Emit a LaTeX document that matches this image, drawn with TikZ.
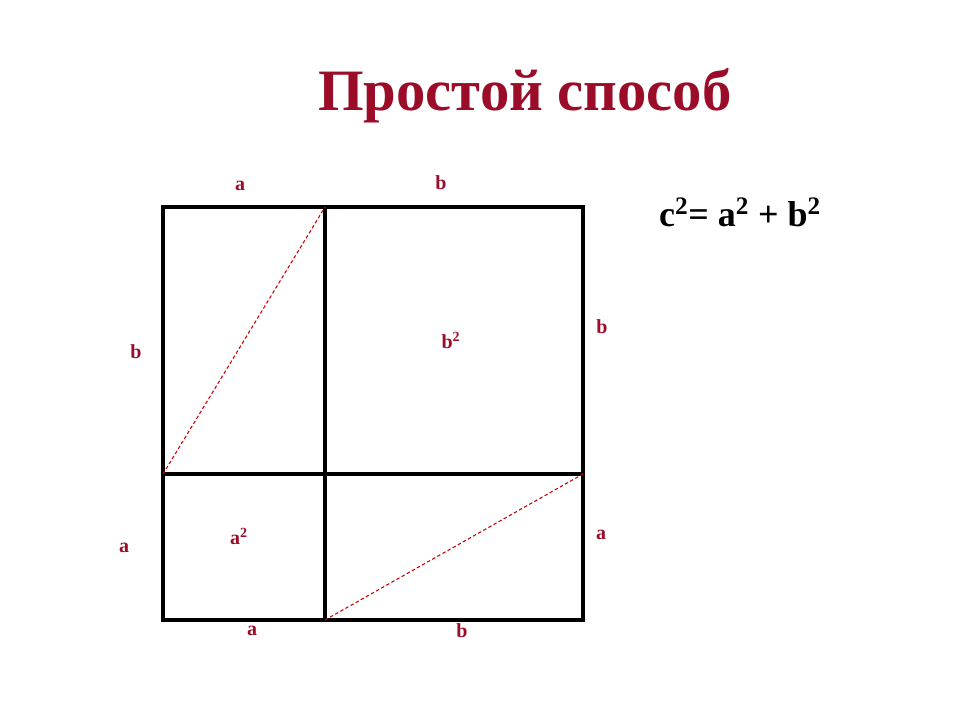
\documentclass[tikz,border=0pt]{standalone}
\usepackage{fontspec}
\setmainfont{Liberation Serif}
\definecolor{titlered}{RGB}{155,12,40}
\tikzset{
  edge/.style={line width=2.6pt, line cap=rect},
  diag/.style={color=red!80!black, dashed, dash pattern=on 2.6pt off 1.8pt, line width=0.8pt},
  lbl/.style={inner sep=0.75pt, text=titlered, font=\bfseries\fontsize{15}{18}\selectfont},
}
\begin{document}
\begin{tikzpicture}[x=0.75pt,y=0.75pt,yscale=-1,xscale=1]
\useasboundingbox (0,0) rectangle (960,720);

% Title
\node (title) at (525,96) [inner sep=0.75pt, text=titlered, font=\bfseries\fontsize{44}{50}\selectfont] {Простой способ};
% Formula
\node (formula) at (740,212) [inner sep=0.75pt, font=\bfseries\fontsize{27}{30}\selectfont] {c\textsuperscript{2}= a\textsuperscript{2} + b\textsuperscript{2}};

% corners of the square
\coordinate (tl) at (163,207);
\coordinate (tm) at (325,207);
\coordinate (tr) at (583,207);
\coordinate (ml) at (163,474);
\coordinate (mm) at (325,474);
\coordinate (mr) at (583,474);
\coordinate (bl) at (163,620);
\coordinate (bm) at (325,620);
\coordinate (br) at (583,620);

%Shape: outer square and inner lines
\draw [edge] (tl) -- (tr) -- (br) -- (bl) -- cycle;
\draw [edge] (tm) -- (bm);
\draw [edge] (ml) -- (mr);

%Shape: diagonals
\draw [diag] (ml) -- (tm);
\draw [diag] (bm) -- (mr);

% Text Nodes
\node (atop) at (240,186) [lbl] {a};
\node (btop) at (441,183) [lbl] {b};
\node (bleft) at (136,352) [lbl] {b};
\node (aleft) at (124,548) [lbl] {a};
\node (bright) at (602,327) [lbl] {b};
\node (aright) at (601,535) [lbl] {a};
\node (abot) at (252,631) [lbl] {a};
\node (bbot) at (462,631) [lbl] {b};
\node (bsq) at (451,340) [lbl] {b\textsuperscript{2}};
\node (asq) at (239,536) [lbl] {a\textsuperscript{2}};
\end{tikzpicture}
\end{document}
